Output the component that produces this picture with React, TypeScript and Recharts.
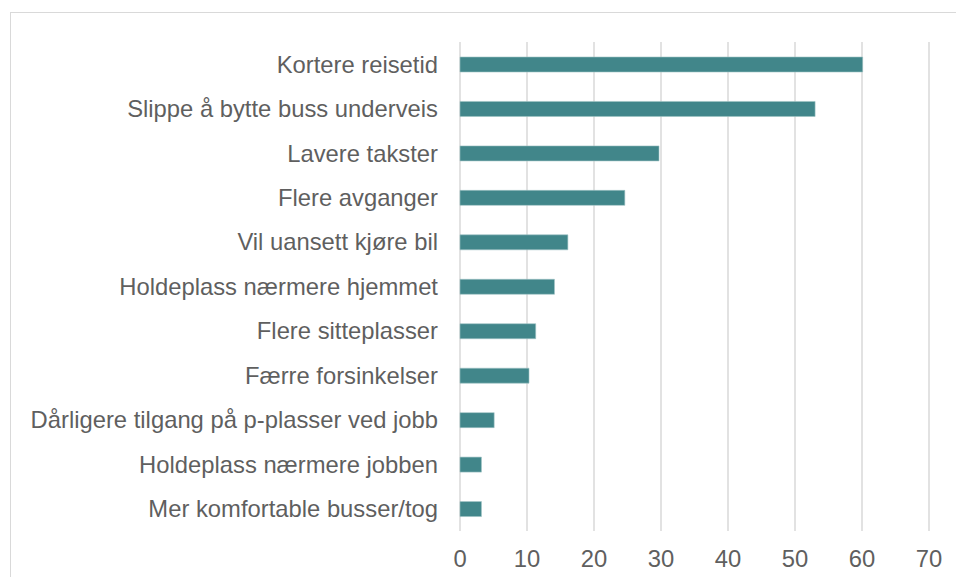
import React from 'react';
import { BarChart, Bar, XAxis, YAxis, CartesianGrid } from 'recharts';

const categories = [
  'Kortere reisetid',
  'Slippe å bytte buss underveis',
  'Lavere takster',
  'Flere avganger',
  'Vil uansett kjøre bil',
  'Holdeplass nærmere hjemmet',
  'Flere sitteplasser',
  'Færre forsinkelser',
  'Dårligere tilgang på p-plasser ved jobb',
  'Holdeplass nærmere jobben',
  'Mer komfortable busser/tog',
];
const values = [60.1, 53.0, 29.7, 24.6, 16.1, 14.1, 11.3, 10.3, 5.1, 3.2, 3.2];
const xTicks = [0, 10, 20, 30, 40, 50, 60, 70];

const data = categories.map((name, i) => ({ name, value: values[i] }));

const font = '"Liberation Sans", Arial, sans-serif';

export default function App() {
  return (
    <div style={{ position: 'absolute', left: 0, top: 0, width: 956, height: 577, overflow: 'hidden', background: '#fff' }}>
      <div style={{ position: 'absolute', left: 10, top: 12, width: 980, height: 600, border: '1px solid #d9d9d9', boxSizing: 'border-box' }} />
      <div style={{ position: 'absolute', left: 0, top: 0 }}>
        <BarChart
          width={956}
          height={577}
          data={data}
          layout="vertical"
          margin={{ top: 42, right: 27, bottom: 0, left: 0 }}
          barSize={15}
        >
          <CartesianGrid horizontal={false} vertical={true} stroke="#d9d9d9" strokeWidth={1.5} />
          <XAxis
            type="number"
            domain={[0, 70]}
            ticks={xTicks}
            axisLine={false}
            tickLine={false}
            tickMargin={13}
            height={46}
            tick={{ fill: '#5f5f5f', fontSize: 23.8, fontFamily: font }}
            interval={0}
          />
          <YAxis
            type="category"
            dataKey="name"
            width={460}
            axisLine={false}
            tickLine={false}
            tickMargin={16}
            interval={0}
            tick={{ fill: '#5f5f5f', fontSize: 23.8, fontFamily: font }}
          />
          <Bar dataKey="value" fill="#41868a" stroke="#9fc3c5" strokeWidth={0.6} isAnimationActive={false} />
        </BarChart>
      </div>
    </div>
  );
}
